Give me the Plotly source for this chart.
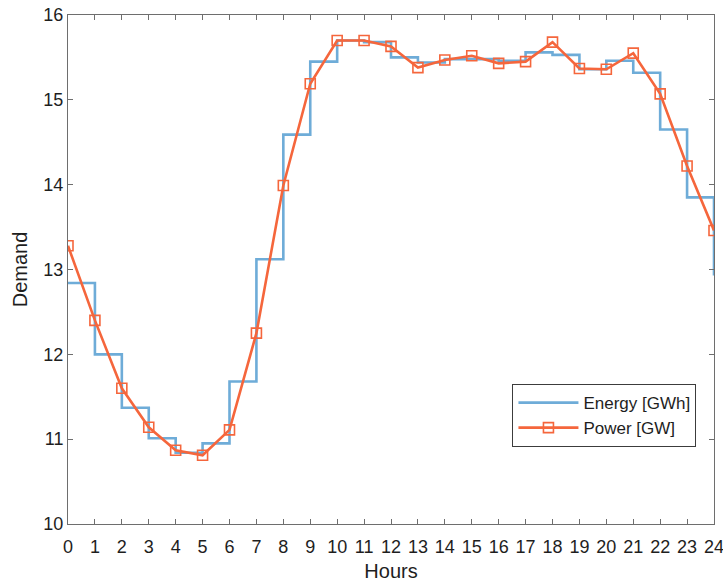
import plotly.graph_objects as go

hours = list(range(25))
energy = [12.84, 12.00, 11.37, 11.01, 10.84, 10.95, 11.68, 13.12, 14.59, 15.45,
          15.70, 15.68, 15.50, 15.44, 15.48, 15.48, 15.46, 15.56, 15.53, 15.36,
          15.46, 15.32, 14.65, 13.85, 12.93]
power = [13.28, 12.40, 11.60, 11.14, 10.87, 10.81, 11.11, 12.25, 13.99, 15.19,
         15.70, 15.70, 15.63, 15.38, 15.47, 15.52, 15.43, 15.45, 15.68, 15.37,
         15.36, 15.55, 15.07, 14.22, 13.46]
tick_vals_x = list(range(25))
tick_vals_y = [10, 11, 12, 13, 14, 15, 16]

BLUE = "rgb(110,172,216)"
ORANGE = "rgb(245,102,60)"
AX = "rgb(110,110,110)"
FONT = "Liberation Sans, Arial, sans-serif"

fig = go.Figure()
fig.add_trace(go.Scatter(x=hours, y=energy, mode="lines", line=dict(color=BLUE, width=2.6, shape="hv"),
                         name="Energy [GWh]"))
fig.add_trace(go.Scatter(x=hours, y=power, mode="lines+markers", line=dict(color=ORANGE, width=2.6),
                         marker=dict(symbol="square-open", size=10, color=ORANGE, line=dict(width=1.6, color=ORANGE)),
                         name="Power [GW]"))

fig.update_layout(
    width=723, height=585,
    margin=dict(l=68, r=9, t=15, b=61),
    paper_bgcolor="white", plot_bgcolor="white",
    font=dict(family=FONT, size=18, color="rgb(30,30,30)"),
    showlegend=True,
    legend=dict(x=0.688, y=0.275, xanchor="left", yanchor="top",
                bordercolor="rgb(60,60,60)", borderwidth=1, bgcolor="white",
                font=dict(size=17, family=FONT), tracegroupgap=0,
                itemwidth=60),
)
fig.update_xaxes(range=[0, 24], tickvals=tick_vals_x, ticks="inside", ticklen=5, tickcolor=AX,
                 showline=True, linecolor=AX, linewidth=1, mirror="ticks", showgrid=False, zeroline=False,
                 automargin=False, ticklabeloverflow="allow", ticklabelstandoff=6,
                 title=dict(text="Hours", font=dict(size=20), standoff=8))
fig.update_yaxes(range=[10, 16], tickvals=tick_vals_y, ticks="inside", ticklen=5, tickcolor=AX,
                 showline=True, linecolor=AX, linewidth=1, mirror="ticks", showgrid=False, zeroline=False,
                 automargin=False, ticklabeloverflow="allow",
                 title=dict(text="Demand", font=dict(size=20), standoff=10))

fig.write_html("out.html", config={"displayModeBar": False},
               post_script="document.body.style.margin='0';document.body.style.overflow='hidden';")
